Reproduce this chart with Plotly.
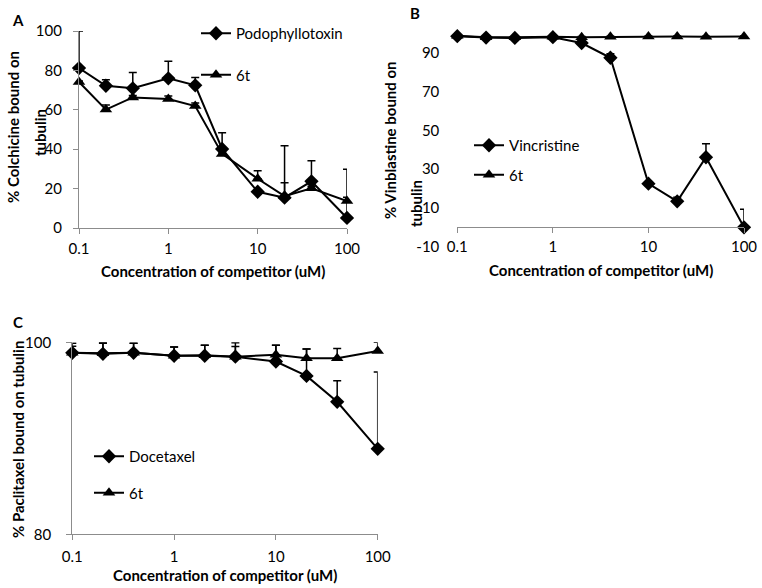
import plotly.graph_objects as go

# ---------------- data ----------------
conc = [0.1, 0.2, 0.4, 1, 2, 4, 10, 20, 40, 100]

# Panel A – colchicine site
podo = [81.2, 72.2, 70.9, 76.0, 72.4, 40.1, 18.4, 15.4, 23.7, 5.1]
podo_err = [18.8, 3.0, 8.0, 8.6, 4.0, 8.3, 0.5, 26.4, 10.4, 24.7]
a6t = [74.1, 60.1, 66.3, 65.5, 61.9, 37.6, 25.0, 16.2, 20.2, 13.7]
a6t_err = [0.5, 2.3, 1.0, 1.5, 1.5, 1.0, 4.1, 6.8, 1.0, 1.9]

# Panel B – vinblastine site
vinc = [98.5, 97.8, 97.6, 98.0, 95.0, 87.4, 22.5, 13.4, 36.1, 0.0]
vinc_err = [0.5, 0.5, 0.3, 0.3, 0.8, 2.0, 0.5, 2.1, 7.0, 9.3]
b6t = [98.8, 98.0, 97.9, 98.2, 98.0, 98.2, 98.3, 98.3, 98.2, 98.3]
b6t_err = [0.4, 0.3, 0.3, 0.3, 0.3, 0.3, 0.3, 0.3, 0.3, 0.3]

# Panel C – paclitaxel site
doce = [98.9, 98.8, 98.9, 98.6, 98.6, 98.5, 98.0, 96.5, 93.8, 88.9]
doce_err = [0.7, 1.1, 1.0, 0.9, 1.1, 1.45, 1.7, 2.8, 2.2, 8.0]
c6t = [98.9, 98.85, 98.9, 98.6, 98.65, 98.5, 98.7, 98.35, 98.35, 99.1]
c6t_err = [1.0, 1.1, 1.0, 0.9, 1.05, 1.05, 1.0, 0.95, 1.0, 0.9]

x_ticks = [0.1, 1, 10, 100]
x_ticktext = ["0.1", "1", "10", "100"]
a_yticks = [0, 20, 40, 60, 80, 100]
b_yticks = [-10, 10, 30, 50, 70, 90]
b_ytext = ["-10", "10", "30", "50", "70", "90"]
c_yticks = [80, 100]

# ---------------- styling ----------------
W, H = 762, 588
FONT = "Lato"
GRAY = "#8c8c8c"
BLACK = "#000000"


def px_x(p):
    return p / W


def px_y(p):
    return 1 - p / H


def add_series(fig, x, y, err, name, symbol, xa, ya, legend):
    fig.add_trace(go.Scatter(
        x=x, y=y, name=name, mode="lines+markers",
        line=dict(color=BLACK, width=2),
        marker=dict(symbol=symbol, size=11, color=BLACK),
        error_y=dict(type="data", symmetric=False, array=err,
                     arrayminus=[0] * len(err), color=BLACK, thickness=1.5, width=4),
        xaxis=xa, yaxis=ya, legend=legend, legendgroup=name + legend,
        cliponaxis=False,
    ))


fig = go.Figure()
add_series(fig, conc, podo, podo_err, "Podophyllotoxin", "diamond", "x", "y", "legend")
add_series(fig, conc, a6t, a6t_err, "6t", "triangle-up", "x", "y", "legend")
add_series(fig, conc, vinc, vinc_err, "Vincristine", "diamond", "x2", "y2", "legend2")
add_series(fig, conc, b6t, b6t_err, "6t", "triangle-up", "x2", "y2", "legend2")
add_series(fig, conc, doce, doce_err, "Docetaxel", "diamond", "x3", "y3", "legend3")
add_series(fig, conc, c6t, c6t_err, "6t", "triangle-up", "x3", "y3", "legend3")

tickfont = dict(family=FONT, size=15, color=BLACK)

common_x = dict(type="log", range=[-1, 2], tickvals=x_ticks, ticktext=x_ticktext,
                showline=True, linecolor=GRAY, linewidth=1.3, ticks="outside",
                ticklen=5, tickcolor=GRAY, showgrid=False, zeroline=False,
                tickfont=tickfont, automargin=False)
common_y = dict(showline=True, linecolor=GRAY, linewidth=1.3, ticks="outside",
                ticklen=5, tickcolor=GRAY, showgrid=False, zeroline=False,
                tickfont=tickfont, automargin=False)

# Panel A geometry
A_x = [px_x(79), px_x(347)]
A_y = [px_y(228), px_y(31)]
# Panel B geometry
B_x = [px_x(457.3), px_x(744)]
B_y = [px_y(246.7), px_y(33.3)]
B_zero = 246.7 - (246.7 - 33.3) / 110 * 10
# Panel C geometry
C_x = [px_x(72.3), px_x(377.7)]
C_y = [px_y(534.3), px_y(342.3)]

legfont = dict(family=FONT, size=15, color=BLACK)

fig.update_layout(
    width=W, height=H, margin=dict(l=0, r=0, t=0, b=0, autoexpand=False),
    paper_bgcolor="white", plot_bgcolor="rgba(0,0,0,0)",
    font=dict(family=FONT, size=15, color=BLACK),
    xaxis=dict(common_x, domain=A_x, anchor="y", ticklabelstandoff=2),
    yaxis=dict(common_y, domain=A_y, anchor="x", range=[0, 100], tickvals=a_yticks,
               ticklabelstandoff=8),
    xaxis2=dict(common_x, domain=B_x, anchor="free", position=px_y(B_zero),
                ticklabelstandoff=1),
    yaxis2=dict(common_y, domain=B_y, anchor="x2", range=[-10, 100], tickvals=b_yticks,
                ticktext=b_ytext, showline=False, ticks="outside", ticklen=14,
                tickcolor="rgba(0,0,0,0)"),
    yaxis4=dict(common_y, domain=[px_y(B_zero), B_y[1]], anchor="x2", range=[0, 100],
                tickvals=[10, 30, 50, 70, 90], showticklabels=False),
    xaxis3=dict(common_x, domain=C_x, anchor="y3", ticklabelstandoff=4),
    yaxis3=dict(common_y, domain=C_y, anchor="x3", range=[80, 100], tickvals=c_yticks,
                ticklabelstandoff=12),
    legend=dict(x=px_x(196), y=px_y(17), xanchor="left", yanchor="top",
                bgcolor="rgba(0,0,0,0)", font=legfont, tracegroupgap=19, itemwidth=30),
    legend2=dict(x=px_x(469), y=px_y(129), xanchor="left", yanchor="top",
                 bgcolor="rgba(0,0,0,0)", font=legfont, tracegroupgap=7, itemwidth=30),
    legend3=dict(x=px_x(89), y=px_y(440), xanchor="left", yanchor="top",
                 bgcolor="rgba(0,0,0,0)", font=legfont, tracegroupgap=14, itemwidth=30),
)

bold = dict(family=FONT, size=15, color=BLACK)
ann = [
    dict(text="<b>A</b>", x=px_x(18), y=px_y(20)),
    dict(text="<b>B</b>", x=px_x(415), y=px_y(13)),
    dict(text="<b>C</b>", x=px_x(18), y=px_y(322)),
    dict(text="<b>Concentration of competitor (uM)</b>", x=px_x(213), y=px_y(271)),
    dict(text="<b>Concentration of competitor (uM)</b>", x=px_x(601), y=px_y(270)),
    dict(text="<b>Concentration of competitor (uM)</b>", x=px_x(225), y=px_y(575)),
    dict(text="<b>% Colchicine bound on</b>", x=px_x(13), y=px_y(127), textangle=-90),
    dict(text="<b>tubulin</b>", x=px_x(40), y=px_y(133), textangle=-90),
    dict(text="<b>% Vinblastine bound on</b>", x=px_x(390), y=px_y(140), textangle=-90),
    dict(text="<b>tubulin</b>", x=px_x(416), y=px_y(204), textangle=-90),
    dict(text="<b>% Paclitaxel bound on tubulin</b>", x=px_x(18), y=px_y(440), textangle=-90),
]
for a in ann:
    fig.add_annotation(xref="paper", yref="paper", showarrow=False, font=bold,
                       xanchor="center", yanchor="middle", **a)

fig.write_html("out.html", config={"displayModeBar": False},
               post_script="document.body.style.margin='0px';document.body.style.overflow='hidden';")
